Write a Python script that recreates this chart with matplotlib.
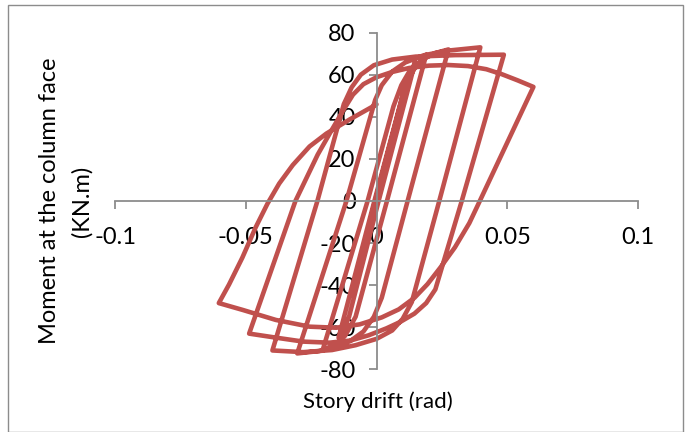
import matplotlib
matplotlib.use("Agg")
import matplotlib.pyplot as plt
from matplotlib.patches import Rectangle

# Hysteresis path: story drift (rad) and moment at column face (kN.m)
drift = [
    0.0, 0.0095, 0.0, -0.0095, -0.0005,
    0.010, 0.013, 0.0148,
    0.0008, -0.0105, -0.0128, -0.0145,
    -0.0008, 0.011, 0.015, 0.019,
    0.004, -0.008, -0.012, -0.016, -0.0205,
    -0.0034, 0.0065, 0.0095, 0.013, 0.018, 0.0225, 0.0275,
    0.0119, 0.002, -0.001, -0.005, -0.010, -0.015, -0.022, -0.0303,
    -0.0115, -0.0005, 0.002, 0.006, 0.011, 0.018, 0.027, 0.0397,
    0.024, 0.0135, 0.010, 0.006, 0.0, -0.008, -0.017, -0.028, -0.0398,
    -0.0226, -0.0125, -0.0095, -0.006, -0.001, 0.006, 0.015, 0.030, 0.0487,
    0.0326, 0.0225, 0.019, 0.0145, 0.009, 0.0038, -0.003, -0.010, -0.018, -0.028,
    -0.038, -0.0487,
    -0.031, -0.0225, -0.017, -0.0125, -0.009, -0.005, 0.0, 0.006, 0.0125, 0.020,
    0.0275, 0.035, 0.042, 0.048, 0.054, 0.060,
    0.0395, 0.0355, 0.030, 0.0245, 0.0195, 0.0145, 0.0085, 0.002, -0.0064, -0.0154,
    -0.0256, -0.0385, -0.0513, -0.0603,
    -0.0564, -0.0513, -0.0462, -0.0417, -0.0372, -0.032, -0.0256, -0.0192, -0.0103, 0.0,
]
moment = [
    0.0, 46.0, 0.0, -45.0, 0.0,
    50.0, 61.0, 66.0,
    0.0, -55.0, -62.0, -65.0,
    0.0, 55.0, 64.0, 69.5,
    0.0, -55.0, -64.0, -68.5, -70.5,
    0.0, 45.0, 55.0, 62.5, 67.5, 70.3, 72.0,
    0.0, -46.0, -55.0, -62.0, -66.5, -69.3, -71.3, -72.4,
    0.0, 48.0, 55.0, 61.5, 65.8, 69.2, 71.4, 73.0,
    0.0, -48.0, -56.0, -61.5, -65.5, -68.5, -70.8, -71.8, -71.0,
    0.0, 46.0, 54.0, 60.0, 64.5, 67.2, 68.6, 69.3, 69.5,
    0.0, -42.0, -48.5, -53.5, -57.5, -60.5, -63.8, -66.3, -67.3, -66.8,
    -65.0, -63.0,
    0.0, 22.0, 34.0, 43.5, 50.5, 55.5, 58.8, 61.3, 63.2, 64.3,
    64.6, 64.1, 62.6, 60.2, 57.3, 54.2,
    0.0, -10.5, -22.0, -31.5, -39.5, -46.0, -51.5, -55.3, -58.6, -60.2,
    -59.7, -56.5, -51.7, -48.5,
    -39.7, -26.9, -12.5, -1.3, 8.3, 17.1, 25.9, 32.0, 38.7, 45.9,
]

x_ticks = [-0.1, -0.05, 0.0, 0.05, 0.1]
x_tick_labels = ["-0.1", "-0.05", "0", "0.05", "0.1"]
y_ticks = [-80, -60, -40, -20, 0, 20, 40, 60, 80]
y_tick_labels = ["-80", "-60", "-40", "-20", "0", "20", "40", "60", "80"]

plt.rcParams["font.family"] = ["Lato", "DejaVu Sans"]

W, H = 686, 432
fig = plt.figure(figsize=(W / 100, H / 100), dpi=100)
ax = fig.add_axes([115 / W, 1 - 369.4 / H, 523 / W, 336.8 / H])

ax.plot(drift, moment, color="#C0504D", lw=3.3,
        solid_joinstyle="round", solid_capstyle="round")

ax.set_xlim(-0.1, 0.1)
ax.set_ylim(-80, 80)
ax.spines["left"].set_position(("data", 0))
ax.spines["bottom"].set_position(("data", 0))
ax.spines["top"].set_visible(False)
ax.spines["right"].set_visible(False)
for s in ("left", "bottom"):
    ax.spines[s].set_color("#8C8C8C")
    ax.spines[s].set_linewidth(1.3)

ax.set_xticks(x_ticks)
ax.set_xticklabels(x_tick_labels)
ax.set_yticks(y_ticks)
ax.set_yticklabels(y_tick_labels)
ax.tick_params(axis="x", direction="out", length=5.5, width=1.3, color="#8C8C8C",
               pad=13, labelsize=17)
ax.tick_params(axis="y", direction="out", length=6, width=1.3, color="#8C8C8C",
               pad=9, labelsize=17)
ax.patch.set_alpha(0)

fig.text(50 / W, 1 - 201 / H, "Moment at the column face", rotation=90,
         ha="center", va="center", fontsize=17)
fig.text(82 / W, 1 - 201 / H, "(KN.m)", rotation=90,
         ha="center", va="center", fontsize=17)
fig.text(378 / W, 1 - 402 / H, "Story drift (rad)", ha="center", va="center",
         fontsize=16)

fig.patches.append(Rectangle((8 / W, 0.5 / H), 675 / W, (H - 5.5) / H,
                             transform=fig.transFigure, fill=False,
                             edgecolor="#8C8C8C", lw=1.0))

fig.savefig("out.png", dpi=100)
